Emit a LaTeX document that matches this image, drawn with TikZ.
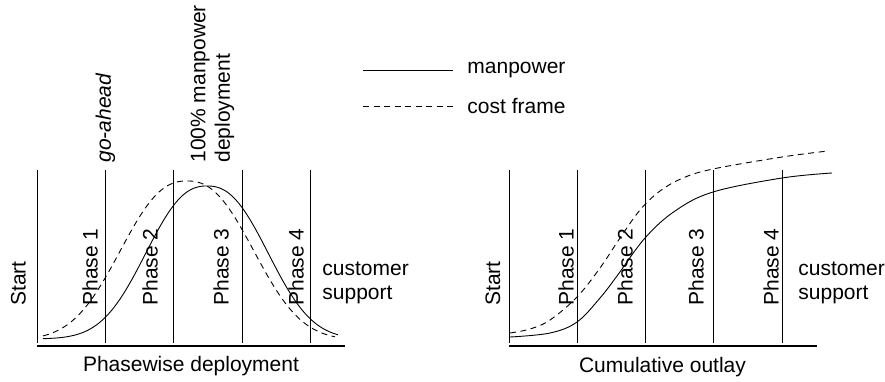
\documentclass[tikz,border=0pt]{standalone}
\usepackage{fontspec}
\setmainfont{Liberation Sans}
\begin{document}
\begin{tikzpicture}[x=1pt,y=-1pt,line width=0.9pt,
  txt/.style={inner sep=0pt,font=\fontsize{21}{24.5}\selectfont},
  vtxt/.style={txt,rotate=90,anchor=west,align=left},
  costline/.style={dash pattern=on 6pt off 4.5pt}]
\useasboundingbox (0,0) rectangle (885,381);

% legend
\draw (363,70) -- (453,70);
\draw[costline] (363,106) -- (453,106);
\node[txt,anchor=west] (manpower) at (467,70) {manpower};
\node[txt,anchor=west] (costframe) at (467,106) {cost frame};

% phasewise deployment
\draw[line width=1.3pt] (37,346) -- (345,346);
\draw (37,170) -- (37,343) (105,170) -- (105,343) (173,170) -- (173,343)
      (242,170) -- (242,343) (310,170) -- (310,343);
\draw plot[domain=43:338,samples=150] (\x,{339-153*exp(-pow(abs(\x-207)/77+0.001,2.4))});
\draw[costline] plot[domain=43:335,samples=150] (\x,{340-159*exp(-pow(abs(\x-187)/84+0.001,2.4))});
\node[vtxt] (startL) at (18.5,306) {Start};
\node[vtxt] (phaseLa) at (90,306) {Phase 1};
\node[vtxt] (phaseLb) at (150,306) {Phase 2};
\node[vtxt] (phaseLc) at (221,306) {Phase 3};
\node[vtxt] (phaseLd) at (296,306) {Phase 4};
\node[txt,anchor=west,align=left] (supportL) at (322,283) {customer\\support};
\node[vtxt] (goahead) at (105.5,163) {\itshape go-ahead};
\node[vtxt] (fullpower) at (212.5,163) {100\% manpower\\deployment};
\node[txt] (phasewise) at (191,366.5) {Phasewise deployment};

% cumulative outlay
\draw[line width=1.3pt] (509,346) -- (817,346);
\draw (509,170) -- (509,343) (577,170) -- (577,343) (645,170) -- (645,343)
      (713,170) -- (713,343) (782,170) -- (782,343);
\draw plot[smooth,tension=0.6] coordinates {(510,337) (550,333) (577,322) (600,298)
      (617,276) (645,238) (675,211) (713,192) (782,178) (832,173)};
\draw[costline] plot[smooth,tension=0.6] coordinates {(510,333) (530,329) (550,320)
      (577,297) (600,268) (620,238) (640,210) (660,191) (683,178) (713,169)
      (782,157) (828,151)};
\node[vtxt] (startR) at (493,306) {Start};
\node[vtxt] (phaseRa) at (566,306) {Phase 1};
\node[vtxt] (phaseRb) at (625,306) {Phase 2};
\node[vtxt] (phaseRc) at (696,306) {Phase 3};
\node[vtxt] (phaseRd) at (771,306) {Phase 4};
\node[txt,anchor=west,align=left] (supportR) at (798,283) {customer\\support};
\node[txt] (cumulative) at (662.5,367) {Cumulative outlay};
\end{tikzpicture}
\end{document}
